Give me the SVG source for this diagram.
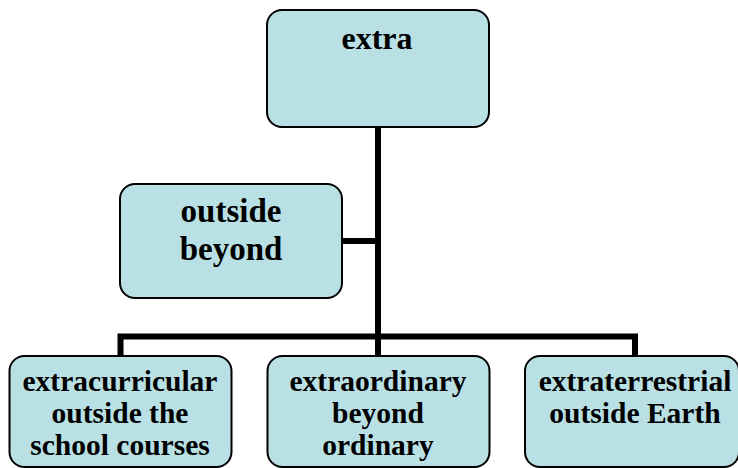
<svg xmlns="http://www.w3.org/2000/svg" width="738" height="468" viewBox="0 0 738 468">
<style>
.box{fill:#b9e0e4;stroke:#000;stroke-width:2}
.t{font-family:"Liberation Serif","Times New Roman",serif;font-weight:bold;fill:#000;text-anchor:middle}
.big{font-size:32px}
.mid{font-size:33px}
.sm{font-size:29.5px}
.conn{stroke:#000;stroke-width:6;fill:none;stroke-linecap:butt}
</style>
<rect width="738" height="468" fill="#fff"/>
<g id="connectors">
<path class="conn" d="M378 127 V356"/>
<path class="conn" d="M342 241 H378"/>
<path class="conn" d="M120.5 356 V336.5 H635 V356"/>
</g>
<g id="node-extra">
<rect class="box" x="267" y="10" width="222" height="117" rx="15"/>
<text class="t big" x="377" y="49">extra</text>
</g>
<g id="node-outside">
<rect class="box" x="120" y="184" width="222" height="114" rx="15"/>
<text class="t mid" x="231" y="222">outside</text>
<text class="t mid" x="231" y="260">beyond</text>
</g>
<g id="node-extracurricular">
<rect class="box" x="9.5" y="356" width="222" height="111" rx="15"/>
<text class="t sm" x="120" y="391">extracurricular</text>
<text class="t sm" x="120" y="423">outside the</text>
<text class="t sm" x="120" y="455">school courses</text>
</g>
<g id="node-extraordinary">
<rect class="box" x="267.5" y="356" width="222" height="111" rx="15"/>
<text class="t sm" x="378" y="391">extraordinary</text>
<text class="t sm" x="378" y="423">beyond</text>
<text class="t sm" x="378" y="455">ordinary</text>
</g>
<g id="node-extraterrestrial">
<rect class="box" x="525" y="356" width="214" height="111" rx="15"/>
<text class="t sm" x="635" y="391">extraterrestrial</text>
<text class="t sm" x="635" y="423">outside Earth</text>
</g>
</svg>
